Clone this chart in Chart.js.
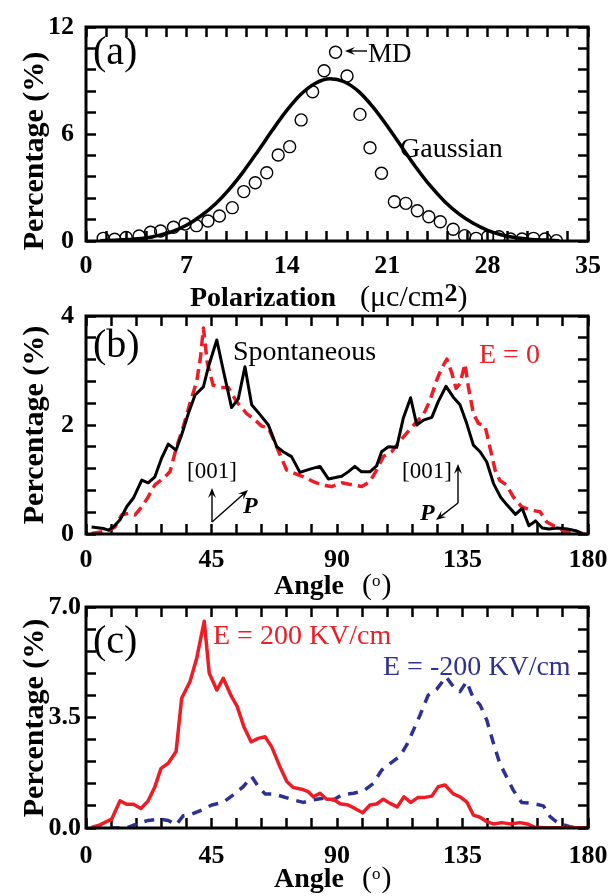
<!DOCTYPE html>
<html>
<head>
<meta charset="utf-8">
<script src="https://cdn.jsdelivr.net/npm/chart.js@4"></script>
<style>
  html, body { margin: 0; background: #fff; }
  #wrap { position: relative; width: 610px; height: 896px; }
  #wrap canvas { position: absolute; left: 0; top: 0; }
</style>
</head>
<body>
<div id="wrap">
  <canvas id="chartA" width="610" height="896"></canvas>
  <canvas id="chartB" width="610" height="896"></canvas>
  <canvas id="chartC" width="610" height="896"></canvas>
</div>
<script>
// (a) MD points and Gaussian fit
const mdPolarization = [1.2, 2.0, 2.8, 3.7, 4.5, 5.2, 6.1, 6.9, 7.7, 8.5, 9.3, 10.2, 11.0, 11.8, 12.6, 13.4, 14.2, 15.0, 15.8, 16.6, 17.4, 18.2, 19.1, 19.8, 20.6, 21.5, 22.3, 23.1, 23.9, 24.7, 25.6, 26.4, 27.2, 28.0, 28.8, 29.6, 30.4, 31.2, 32.0, 32.8];
const mdPercent = [0.15, 0.10, 0.20, 0.28, 0.49, 0.56, 0.77, 0.95, 0.86, 1.12, 1.40, 1.87, 2.77, 3.27, 3.83, 4.82, 5.29, 6.79, 8.37, 9.55, 10.58, 9.25, 7.10, 5.23, 3.80, 2.20, 2.11, 1.70, 1.36, 1.08, 0.66, 0.30, 0.15, 0.24, 0.24, 0.11, 0.11, 0.15, 0.11, 0.02];
const gaussPolarization = [1, 2, 3, 4, 5, 6, 7, 8, 9, 10, 11, 12, 13, 14, 15, 16, 17, 18, 19, 20, 21, 22, 23, 24, 25, 26, 27, 28, 29, 30, 31, 32, 33];
const gaussPercent = [0.02, 0.04, 0.08, 0.15, 0.30, 0.52, 0.88, 1.40, 2.06, 2.91, 3.92, 5.05, 6.22, 7.32, 8.24, 8.85, 9.10, 8.93, 8.39, 7.52, 6.45, 5.29, 4.14, 3.10, 2.22, 1.52, 0.99, 0.60, 0.34, 0.18, 0.09, 0.05, 0.02];

// (b) spontaneous vs E = 0
const spontAngle = [2.0, 6.2, 8.0, 9.8, 12.2, 14.6, 17.0, 20.0, 22.3, 24.7, 27.1, 29.5, 32.3, 34.3, 36.7, 39.1, 42.1, 43.9, 46.9, 49.2, 52.2, 54.6, 57.0, 59.4, 62.4, 65.4, 68.4, 70.7, 73.7, 76.7, 80.3, 83.9, 86.9, 89.9, 91.7, 94.0, 96.4, 98.8, 101.8, 104.2, 106.0, 108.4, 111.4, 113.8, 116.4, 118.6, 121.0, 124.0, 126.3, 129.1, 131.7, 134.1, 136.5, 138.9, 141.3, 143.7, 146.1, 148.6, 151.0, 154.0, 156.4, 158.8, 161.2, 163.6, 166.0, 169.0, 172.6, 175.6, 178.0];
const spontPercent = [0.13, 0.10, 0.07, 0.13, 0.26, 0.50, 0.66, 0.99, 0.94, 1.05, 1.39, 1.65, 1.54, 1.82, 2.21, 2.55, 2.70, 3.07, 3.56, 3.01, 2.32, 2.48, 3.07, 2.37, 2.19, 2.00, 1.60, 1.51, 1.42, 1.13, 1.19, 1.24, 1.01, 1.04, 1.06, 1.14, 1.24, 1.14, 1.14, 1.25, 1.51, 1.60, 1.59, 2.13, 2.50, 2.00, 2.09, 2.14, 2.43, 2.71, 2.51, 2.37, 2.03, 1.63, 1.51, 1.32, 0.93, 0.68, 0.53, 0.36, 0.47, 0.15, 0.24, 0.11, 0.09, 0.11, 0.09, 0.06, 0.01];
const e0Angle = [2.0, 8.0, 10.4, 12.8, 15.2, 17.6, 20.0, 22.3, 24.7, 27.7, 30.1, 32.5, 34.9, 37.3, 39.7, 41.1, 42.1, 43.5, 45.6, 48.1, 51.0, 54.0, 57.6, 60.0, 63.0, 65.4, 67.8, 69.6, 72.0, 75.0, 78.0, 81.5, 84.5, 88.1, 91.7, 95.9, 98.9, 101.8, 104.2, 106.6, 109.6, 112.0, 115.0, 118.0, 121.0, 123.4, 125.8, 127.6, 129.4, 131.2, 132.7, 134.1, 135.9, 137.1, 138.9, 140.7, 143.1, 144.8, 146.7, 148.4, 150.8, 153.2, 156.2, 159.2, 162.8, 165.2, 168.1, 172.4, 176.0, 179.0];
const e0Percent = [0.01, 0.06, 0.13, 0.35, 0.38, 0.35, 0.50, 0.68, 0.90, 1.02, 1.14, 1.60, 1.97, 2.40, 2.80, 3.26, 3.78, 3.14, 2.73, 2.69, 2.69, 2.43, 2.21, 2.12, 1.98, 1.95, 1.67, 1.45, 1.17, 1.11, 1.05, 0.96, 0.90, 0.87, 0.94, 0.90, 0.87, 0.96, 1.17, 1.42, 1.51, 1.67, 1.85, 2.03, 2.19, 2.46, 2.83, 3.05, 3.21, 2.95, 2.67, 2.76, 3.12, 2.70, 2.21, 2.03, 1.98, 1.60, 1.17, 0.98, 0.90, 0.68, 0.50, 0.44, 0.41, 0.22, 0.14, 0.04, 0.01, 0.0];

// (c) E = +200 / -200 KV/cm
const e200Angle = [2.0, 5.0, 9.2, 12.2, 14.6, 17.0, 19.7, 22.3, 24.7, 26.9, 29.5, 32.3, 34.3, 37.3, 39.7, 42.4, 44.2, 46.9, 49.2, 52.2, 54.2, 56.6, 59.2, 61.8, 64.2, 66.6, 69.3, 72.0, 74.3, 77.3, 79.7, 81.5, 83.9, 86.3, 88.7, 91.1, 94.0, 96.4, 99.2, 101.8, 104.2, 106.6, 109.0, 111.6, 114.0, 116.4, 119.1, 121.5, 124.0, 126.3, 128.7, 131.7, 134.1, 136.5, 138.9, 141.3, 143.7, 146.1, 149.1, 152.0, 155.6, 158.6, 161.0, 165.0, 170.0, 175.0, 180.0];
const e200Percent = [0.02, 0.10, 0.28, 0.86, 0.75, 0.75, 0.62, 0.86, 1.31, 1.89, 2.05, 2.42, 4.11, 4.64, 5.38, 6.55, 4.90, 4.37, 4.74, 4.16, 3.85, 3.21, 2.73, 2.84, 2.89, 2.57, 1.99, 1.47, 1.28, 1.23, 1.15, 0.99, 1.10, 0.91, 0.91, 0.77, 0.73, 0.62, 0.48, 0.73, 0.76, 0.91, 0.78, 0.67, 0.99, 0.81, 0.97, 0.97, 1.01, 1.31, 1.36, 1.08, 0.99, 0.83, 0.41, 0.34, 0.20, 0.13, 0.17, 0.13, 0.17, 0.12, 0.02, 0.01, 0.01, 0.01, 0.01];
const em200Angle = [2.0, 9.2, 14.6, 18.8, 22.3, 26.5, 29.5, 32.3, 34.9, 37.9, 41.5, 45.1, 49.2, 52.8, 56.4, 59.4, 61.8, 64.2, 67.2, 70.7, 74.3, 77.9, 81.5, 85.1, 88.7, 91.7, 95.9, 99.4, 103.0, 106.0, 109.0, 112.6, 115.0, 117.4, 119.8, 122.7, 125.7, 129.1, 131.7, 134.1, 136.5, 138.9, 141.3, 143.7, 146.1, 148.4, 150.8, 153.2, 156.2, 160.4, 164.0, 166.4, 169.4, 173.5, 177.7];
const em200Percent = [0.0, 0.0, 0.0, 0.15, 0.24, 0.28, 0.24, 0.10, 0.39, 0.44, 0.57, 0.73, 0.81, 1.05, 1.31, 1.63, 1.31, 1.08, 1.08, 0.99, 0.89, 0.81, 0.89, 0.94, 0.89, 1.05, 1.10, 1.17, 1.41, 1.83, 2.04, 2.28, 2.63, 3.10, 3.58, 4.21, 4.39, 4.79, 4.48, 4.32, 4.64, 4.11, 3.90, 3.42, 2.68, 2.04, 1.62, 1.20, 0.81, 0.78, 0.70, 0.36, 0.15, 0.04, 0.0];

const SERIF = '"Liberation Serif", "Times New Roman", serif';
const RED = '#ee1c25';
const BLUE = '#2e3192';
const TICK_IN = -10; // negative length: tick marks point into the plot

function pts(xs, ys) {
    return xs.map((x, i) => ({ x: x, y: ys[i] }));
}

function isMajor(v, major) {
    return Math.abs(v / major - Math.round(v / major)) < 1e-6;
}

// arrow with a filled head at (x2, y2)
function drawArrow(ctx, a) {
    const ang = Math.atan2(a.y2 - a.y1, a.x2 - a.x1);
    const len = 10, half = 4;
    const c = Math.cos(ang), s = Math.sin(ang);
    ctx.save();
    ctx.setLineDash([]);
    ctx.strokeStyle = '#000';
    ctx.fillStyle = '#000';
    ctx.lineWidth = 1.4;
    ctx.beginPath();
    ctx.moveTo(a.x1, a.y1);
    ctx.lineTo(a.x2 - c * len * 0.6, a.y2 - s * len * 0.6);
    ctx.stroke();
    ctx.beginPath();
    ctx.moveTo(a.x2, a.y2);
    ctx.lineTo(a.x2 - len * c + half * s, a.y2 - len * s - half * c);
    ctx.lineTo(a.x2 - 0.6 * len * c, a.y2 - 0.6 * len * s);
    ctx.lineTo(a.x2 - len * c - half * s, a.y2 - len * s + half * c);
    ctx.closePath();
    ctx.fill();
    ctx.restore();
}

// frame, axis titles and annotations
const panelDecor = {
    id: 'panelDecor',
    afterDraw(chart, args, opts) {
        const ctx = chart.ctx;
        const { left, right, top, bottom } = chart.chartArea;
        ctx.save();
        ctx.setLineDash([]);
        ctx.strokeStyle = '#000';
        ctx.lineWidth = 3;
        ctx.strokeRect(left, top, right - left, bottom - top);

        ctx.textBaseline = 'alphabetic';
        ctx.textAlign = 'left';
        (opts.texts || []).forEach(t => {
            ctx.font = t.font + ' ' + SERIF;
            ctx.fillStyle = t.color || '#000';
            ctx.fillText(t.t, t.x, t.y);
        });
        (opts.arrows || []).forEach(a => drawArrow(ctx, a));

        // x title made of runs (bold word, regular unit)
        if (opts.xTitle) {
            let cx = opts.xTitle.x;
            ctx.fillStyle = '#000';
            opts.xTitle.runs.forEach(r => {
                if (r.x !== undefined) cx = r.x;
                ctx.font = r.font + ' ' + SERIF;
                ctx.fillText(r.t, cx, opts.xTitle.y + (r.dy || 0));
                cx += ctx.measureText(r.t).width + (r.gap || 0);
            });
        }
        // rotated y title
        if (opts.yTitle) {
            ctx.translate(opts.yTitle.x, opts.yTitle.y);
            ctx.rotate(-Math.PI / 2);
            ctx.textAlign = 'center';
            ctx.font = 'bold 30px ' + SERIF;
            ctx.fillStyle = '#000';
            ctx.fillText(opts.yTitle.text, 0, 0);
        }
        ctx.restore();
    }
};

const tickFont = { family: SERIF, size: 26, weight: 'bold' };

// library-drawn inward tick marks
const tickGrid = {
    display: true, drawOnChartArea: false, drawTicks: true,
    tickLength: TICK_IN, tickWidth: 2.5, tickColor: '#000'
};

// fixed axis box sizes; label overflow must not push the plot area
function fixSize(w, h) {
    return s => {
        if (w !== null) s.width = w;
        if (h !== null) s.height = h;
        s.paddingLeft = 0;
        s.paddingRight = 0;
        s.paddingTop = 0;
        s.paddingBottom = 0;
    };
}

function panelOptions(cfg) {
    return {
        responsive: false,
        animation: false,
        devicePixelRatio: 1,
        layout: { padding: { left: 0, right: 22, top: cfg.top, bottom: 896 - cfg.bottom - 60 } },
        elements: { line: { borderJoinStyle: 'round' } },
        plugins: {
            legend: { display: false },
            tooltip: { enabled: false },
            panelDecor: cfg.decor
        },
        scales: {
            x: {
                type: 'linear',
                min: cfg.xMin, max: cfg.xMax,
                grid: tickGrid,
                border: { display: false },
                ticks: {
                    stepSize: cfg.xStep, autoSkip: false, maxRotation: 0,
                    padding: cfg.xPad - TICK_IN, color: '#000', font: tickFont,
                    callback: v => isMajor(v, cfg.xMajor) ? String(Math.round(v)) : ''
                },
                afterFit: fixSize(null, 60)
            },
            x2: {
                type: 'linear', position: 'top',
                min: cfg.xMin, max: cfg.xMax,
                grid: tickGrid,
                border: { display: false },
                ticks: { display: false, stepSize: cfg.xStep, autoSkip: false },
                afterFit: fixSize(null, 0)
            },
            y: {
                min: cfg.yMin, max: cfg.yMax,
                grid: tickGrid,
                border: { display: false },
                ticks: {
                    stepSize: cfg.yStep, autoSkip: false,
                    padding: cfg.yPad - TICK_IN, color: '#000', font: tickFont,
                    callback: v => isMajor(v, cfg.yMajor) ? cfg.yFmt(v) : ''
                },
                afterFit: fixSize(86, null)
            },
            y2: {
                type: 'linear', position: 'right',
                min: cfg.yMin, max: cfg.yMax,
                grid: tickGrid,
                border: { display: false },
                ticks: { display: false, stepSize: cfg.yStep, autoSkip: false },
                afterFit: fixSize(0, null)
            }
        }
    };
}

const angleTitle = y => ({
    x: 274, y: y,
    runs: [
        { t: 'Angle', font: 'bold 28px' },
        { t: '(', font: '30px', x: 362 },
        { t: 'o', font: '17px', dy: -8, gap: 1 },
        { t: ')', font: '30px' }
    ]
});

document.addEventListener('DOMContentLoaded', function () {
    // Panel (a)
    new Chart(document.getElementById('chartA'), {
        type: 'line',
        data: {
            datasets: [{
                label: 'Gaussian',
                data: pts(gaussPolarization, gaussPercent),
                borderColor: '#000',
                borderWidth: 3.5,
                pointRadius: 0,
                cubicInterpolationMode: 'monotone'
            }, {
                label: 'MD',
                data: pts(mdPolarization, mdPercent),
                showLine: false,
                pointRadius: 6,
                pointBorderWidth: 1.4,
                pointBorderColor: '#000',
                pointBackgroundColor: 'rgba(255,255,255,0)'
            }]
        },
        options: panelOptions({
            top: 27, bottom: 241,
            xMin: 0, xMax: 35, xStep: 1.4, xMajor: 7, xPad: 10,
            yMin: 0, yMax: 12, yStep: 1.2, yMajor: 6, yPad: 12,
            yFmt: v => String(Math.round(v)),
            decor: {
                texts: [
                    { t: '(a)', x: 93, y: 64, font: '40px' },
                    { t: 'MD', x: 368, y: 62, font: '27px' },
                    { t: 'Gaussian', x: 400, y: 157, font: '28px' }
                ],
                arrows: [{ x1: 367, y1: 51, x2: 345, y2: 51 }],
                yTitle: { text: 'Percentage (%)', x: 43, y: 151 },
                xTitle: {
                    x: 190, y: 306,
                    runs: [
                        { t: 'Polarization', font: 'bold 28px' },
                        { t: '(\u03bcc/cm', font: '30px', x: 360 },
                        { t: '2', font: 'bold 26px', dy: -5 },
                        { t: ')', font: '30px' }
                    ]
                }
            }
        }),
        plugins: [panelDecor]
    });

    // Panel (b)
    new Chart(document.getElementById('chartB'), {
        type: 'line',
        data: {
            datasets: [{
                label: 'Spontaneous',
                data: pts(spontAngle, spontPercent),
                borderColor: '#000',
                borderWidth: 3,
                pointRadius: 0,
                tension: 0
            }, {
                label: 'E = 0',
                data: pts(e0Angle, e0Percent),
                borderColor: RED,
                borderWidth: 3.5,
                borderDash: [11, 6],
                pointRadius: 0,
                tension: 0
            }]
        },
        options: panelOptions({
            top: 316, bottom: 534,
            xMin: 0, xMax: 180, xStep: 9, xMajor: 45, xPad: 11,
            yMin: 0, yMax: 4, yStep: 0.4, yMajor: 2, yPad: 12,
            yFmt: v => String(Math.round(v)),
            decor: {
                texts: [
                    { t: '(b)', x: 93, y: 357, font: '40px' },
                    { t: 'Spontaneous', x: 233, y: 360, font: '28px' },
                    { t: 'E = 0', x: 479, y: 363, font: '28px', color: RED },
                    { t: '[001]', x: 187, y: 478, font: '23px' },
                    { t: '[001]', x: 402, y: 478, font: '23px' },
                    { t: 'P', x: 243, y: 513, font: 'bold italic 24px' },
                    { t: 'P', x: 420, y: 520, font: 'bold italic 24px' }
                ],
                arrows: [
                    { x1: 212, y1: 522, x2: 212, y2: 488 },
                    { x1: 212, y1: 522, x2: 248, y2: 490 },
                    { x1: 458, y1: 503, x2: 458, y2: 464 },
                    { x1: 458, y1: 503, x2: 436, y2: 520 }
                ],
                yTitle: { text: 'Percentage (%)', x: 43, y: 425 },
                xTitle: angleTitle(594)
            }
        }),
        plugins: [panelDecor]
    });

    // Panel (c)
    new Chart(document.getElementById('chartC'), {
        type: 'line',
        data: {
            datasets: [{
                label: 'E = 200 KV/cm',
                data: pts(e200Angle, e200Percent),
                borderColor: RED,
                borderWidth: 3.5,
                pointRadius: 0,
                tension: 0
            }, {
                label: 'E = -200 KV/cm',
                data: pts(em200Angle, em200Percent),
                borderColor: BLUE,
                borderWidth: 3.5,
                borderDash: [10, 8],
                pointRadius: 0,
                tension: 0
            }]
        },
        options: panelOptions({
            top: 607, bottom: 828,
            xMin: 0, xMax: 180, xStep: 9, xMajor: 45, xPad: 13,
            yMin: 0, yMax: 7, yStep: 0.7, yMajor: 3.5, yPad: 5,
            yFmt: v => v.toFixed(1),
            decor: {
                texts: [
                    { t: '(c)', x: 93, y: 653, font: '40px' },
                    { t: 'E = 200 KV/cm', x: 213, y: 644, font: '28px', color: RED },
                    { t: 'E = -200 KV/cm', x: 383, y: 675, font: '28px', color: BLUE }
                ],
                yTitle: { text: 'Percentage (%)', x: 43, y: 718 },
                xTitle: angleTitle(887)
            }
        }),
        plugins: [panelDecor]
    });
});
</script>
</body>
</html>
